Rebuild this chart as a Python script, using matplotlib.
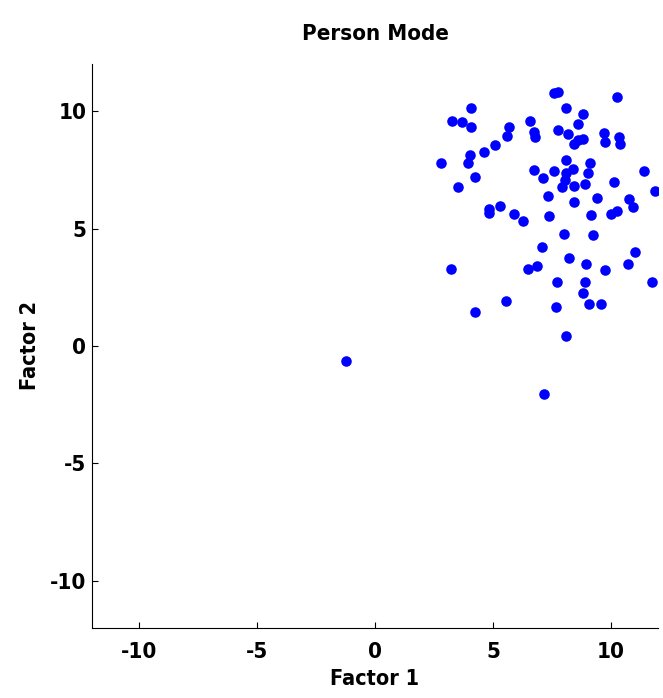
import numpy as np
import matplotlib
matplotlib.use('Agg')
import matplotlib.pyplot as plt
from matplotlib import font_manager

# Person mode factor scores
factor1 = [7.58, 7.75, 10.25, 4.07, 8.09, 3.26, 3.69, 4.07, 8.81, 6.57,
           5.68, 5.59, 6.74, 6.78, 7.75, 8.18, 8.60, 8.60, 8.81, 8.43,
           9.70, 9.75, 10.34, 10.38, 5.08, 4.62, 4.03, 3.94, 2.80, 4.24,
           3.52, 8.09, 9.11, 6.74, 7.58, 8.39, 8.09, 9.03, 7.12, 8.05,
           7.92, 8.43, 8.90, 11.40, 10.13, 11.86, 7.33, 8.43, 9.41, 10.76,
           10.93, 5.30, 4.83, 4.83, 5.89, 6.27, 7.37, 9.15, 10.00, 10.25,
           8.01, 9.24, 7.08, 11.02, 8.22, 8.94, 10.72, 9.75, 3.22, 6.48,
           6.86, 7.71, 8.90, 11.74, 8.81, 5.55, 7.67, 9.07, 9.58, 4.24,
           8.09, -1.23, 7.16]
factor2 = [10.77, 10.81, 10.60, 10.13, 10.13, 9.57, 9.53, 9.32, 9.87, 9.57,
           9.32, 8.94, 9.11, 8.89, 9.19, 9.02, 9.45, 8.77, 8.81, 8.60,
           9.06, 8.68, 8.89, 8.60, 8.55, 8.26, 8.13, 7.79, 7.79, 7.19,
           6.77, 7.91, 7.79, 7.49, 7.45, 7.53, 7.36, 7.36, 7.15, 7.06,
           6.77, 6.81, 6.89, 7.45, 6.98, 6.60, 6.38, 6.13, 6.30, 6.26,
           5.91, 5.96, 5.83, 5.66, 5.62, 5.32, 5.53, 5.57, 5.62, 5.74,
           4.77, 4.72, 4.21, 4.00, 3.74, 3.49, 3.49, 3.23, 3.28, 3.28,
           3.40, 2.72, 2.72, 2.72, 2.26, 1.91, 1.66, 1.79, 1.79, 1.45,
           0.43, -0.64, -2.04]

# a condensed face if one is there, else plain Liberation Sans
condensed = [f for f in font_manager.fontManager.ttflist
             if f.name == 'DejaVu Sans' and 'condensed' in str(f.stretch)]
if condensed:
    plt.rcParams['font.family'] = ['DejaVu Sans']
    plt.rcParams['font.stretch'] = 'condensed'
else:
    plt.rcParams['font.family'] = ['Liberation Sans', 'DejaVu Sans']
plt.rcParams['axes.unicode_minus'] = False

fig = plt.figure(figsize=(6.63, 6.98), dpi=100)
ax = fig.add_axes([0.1388, 0.1003, 0.8537, 0.808])

ax.plot(factor1, factor2, 'o', color='blue', markersize=7.6, markeredgewidth=0)

ax.set_xlim(-12, 12)
ax.set_ylim(-12, 12)
ax.set_xticks([-10, -5, 0, 5, 10])
ax.set_yticks([-10, -5, 0, 5, 10])
ax.spines['top'].set_visible(False)
ax.spines['right'].set_visible(False)
ax.tick_params(direction='in', length=4.5, labelsize=16)
ax.tick_params(axis='x', pad=10)
ax.tick_params(axis='y', pad=4)
for lab in ax.get_xticklabels() + ax.get_yticklabels():
    lab.set_fontweight('bold')

ax.set_xlabel('Factor 1', fontsize=15.5, fontweight='bold', labelpad=5)
ax.set_ylabel('Factor 2', fontsize=15.5, fontweight='bold', labelpad=7)
ax.set_title('Person Mode', fontsize=16, fontweight='bold', pad=17)

fig.savefig('out.png', dpi=100)
